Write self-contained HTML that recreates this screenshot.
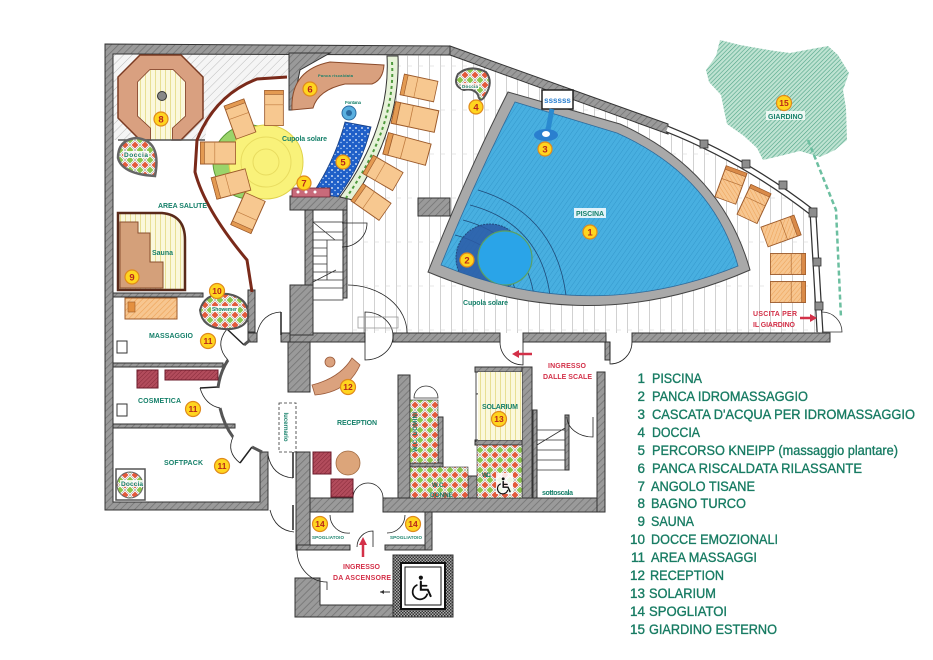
<!DOCTYPE html>
<html><head><meta charset="utf-8">
<style>
html,body{margin:0;padding:0;background:#fff;}
svg{display:block;}
text{font-family:"Liberation Sans",Arial,sans-serif;}
</style></head><body>
<svg width="933" height="660" viewBox="0 0 933 660" xmlns="http://www.w3.org/2000/svg">
<defs>
<pattern id="wh" width="5" height="5" patternUnits="userSpaceOnUse" patternTransform="rotate(45)">
<rect width="5" height="5" fill="#9a9a9a"/><line x1="0" y1="0" x2="0" y2="5" stroke="#747474" stroke-width="1.6"/></pattern>
<pattern id="lh" width="6" height="6" patternUnits="userSpaceOnUse" patternTransform="rotate(45)">
<rect width="6" height="6" fill="#f5f5f5"/><line x1="0" y1="0" x2="0" y2="6" stroke="#bcbcbc" stroke-width="1"/></pattern>
<pattern id="gh" width="3" height="3" patternUnits="userSpaceOnUse" patternTransform="rotate(45)">
<rect width="3" height="3" fill="#bfe3d2"/><line x1="0" y1="0" x2="0" y2="3" stroke="#4ea386" stroke-width="1.2"/></pattern>
<pattern id="deck" width="11" height="44" patternUnits="userSpaceOnUse">
<rect width="11" height="44" fill="#fff"/><line x1="0.5" y1="0" x2="0.5" y2="44" stroke="#c6c6c6" stroke-width="0.8"/><line x1="0" y1="22" x2="5" y2="22" stroke="#d8d8d8" stroke-width="0.6"/></pattern>
<pattern id="water" width="4" height="4" patternUnits="userSpaceOnUse" patternTransform="rotate(35)">
<rect width="4" height="4" fill="#48afe0"/><line x1="0" y1="0" x2="0" y2="4" stroke="#3498cc" stroke-width="1"/></pattern>
<pattern id="tiles" width="10" height="10" patternUnits="userSpaceOnUse">
<rect width="10" height="10" fill="#fff"/>
<path d="M5 0 L10 5 L5 10 L0 5Z" fill="none" stroke="#666" stroke-width="0.4"/>
<path d="M5 1.5 L8.5 5 L5 8.5 L1.5 5Z" fill="#e25a3c"/>
<path d="M0 -3.5 L3.5 0 L0 3.5 L-3.5 0Z M10 -3.5 L13.5 0 L10 3.5 L6.5 0Z M0 6.5 L3.5 10 L0 13.5 L-3.5 10Z M10 6.5 L13.5 10 L10 13.5 L6.5 10Z" fill="#8dc54c"/></pattern>
<pattern id="yst" width="5" height="5" patternUnits="userSpaceOnUse">
<rect width="5" height="5" fill="#fbf8dc"/><line x1="0.5" y1="0" x2="0.5" y2="5" stroke="#e0d576" stroke-width="0.7"/></pattern>
<pattern id="orh" width="4" height="4" patternUnits="userSpaceOnUse" patternTransform="rotate(45)">
<rect width="4" height="4" fill="#f7c690"/><line x1="0" y1="0" x2="0" y2="4" stroke="#eda257" stroke-width="1.2"/></pattern>
<pattern id="rh" width="3" height="3" patternUnits="userSpaceOnUse" patternTransform="rotate(45)">
<rect width="3" height="3" fill="#b24c5c"/><line x1="0" y1="0" x2="0" y2="3" stroke="#872a3a" stroke-width="1"/></pattern>
<pattern id="chk" width="3" height="3" patternUnits="userSpaceOnUse">
<rect width="3" height="3" fill="#aaa"/><rect width="1.5" height="1.5" fill="#333"/><rect x="1.5" y="1.5" width="1.5" height="1.5" fill="#333"/></pattern>
<pattern id="kn" width="6" height="6" patternUnits="userSpaceOnUse">
<rect width="6" height="6" fill="#1f5fc8"/><circle cx="2" cy="2" r="0.9" fill="#fff"/><circle cx="5" cy="4.5" r="0.7" fill="#bfe0ff"/></pattern>
<g id="lng"><rect x="-22" y="-11" width="44" height="22" fill="#f7c890" stroke="#9c5a2a" stroke-width="1"/><rect x="-22" y="-11" width="5" height="22" fill="#e39a52" stroke="#9c5a2a" stroke-width="0.8"/><line x1="-4" y1="-11" x2="-4" y2="11" stroke="#c07c40" stroke-width="0.8"/></g>
<g id="lnh"><rect x="-22" y="-11" width="44" height="22" fill="url(#orh)" stroke="#9c5a2a" stroke-width="1"/><rect x="-22" y="-11" width="5" height="22" fill="#d98a48" stroke="#9c5a2a" stroke-width="0.8"/><line x1="-4" y1="-11" x2="-4" y2="11" stroke="#b06a30" stroke-width="0.8"/></g>
<g id="wchair" fill="none" stroke="#111" stroke-linecap="round">
<circle cx="-1" cy="-9" r="1.8" fill="#111" stroke="none"/>
<path d="M-1,-5.5 L-1,1.5 L5,1.5 L7.5,7" stroke-width="1.8"/>
<path d="M-1,-2 L4,-2" stroke-width="1.5"/>
<path d="M-4.5,-2.5 A6.5,6.5 0 1 0 4.5,5.5" stroke-width="1.5"/></g>
<clipPath id="wclip"><path d="M441,265 Q475,180 515,102 L617,133 Q713,176 738,266 Q590,326 441,265 Z"/></clipPath>
</defs>
<rect width="933" height="660" fill="#fff"/>

<!-- garden -->
<path d="M720,40 L740,45 L757,48 L775,51 L790,53 L806,50 L828,46 L838,55 L849,73 L843,90 L846,108 L847,140 L835,150 L820,157 L800,151 L780,156 L763,160 L757,148 L744,136 L727,124 L724,110 L721,95 L709,82 L706,70 L716,56 Z" fill="url(#gh)"/>
<path d="M808,140 L836,210 L841,318" fill="none" stroke="#6cbfa0" stroke-width="2.5" stroke-dasharray="5,3"/>

<!-- deck -->
<path d="M398,56 L449,55 L667,133 Q745,162 812,214 L819,333 L350,333 L350,205 L353,200 Q401,127 398,56 Z" fill="url(#deck)"/>

<!-- light hatch top-left -->
<path d="M113,53 L290,53 L290,77 L257,79 Q222,92 207,125 L205,140 L113,140 Z" fill="url(#lh)"/>

<!-- walls -->
<g fill="url(#wh)" stroke="#333" stroke-width="1">
<path d="M105,44 L450,46 L450,55 L113,54 L113,502 L260,502 L260,452 L268,452 L268,510 L105,510 Z"/>
<path d="M450,46 L668,124 L668,134 L450,55 Z"/>
<rect x="248" y="333" width="9" height="9"/>
<rect x="281" y="333" width="9" height="9"/>
<rect x="290" y="333" width="75" height="9"/>
<rect x="393" y="333" width="107" height="9"/>
<rect x="523" y="333" width="83" height="9"/>
<rect x="632" y="333" width="198" height="9"/>
<path d="M289,53 L330,53 L300,70 L292,110 L289,110 Z"/>
<rect x="290" y="196" width="57" height="14"/>
<rect x="305" y="210" width="8" height="78"/>
<rect x="290" y="285" width="23" height="50"/>
<rect x="343" y="210" width="4" height="88"/>
<rect x="418" y="198" width="32" height="18"/>
<rect x="288" y="342" width="22" height="50"/>
<rect x="296" y="452" width="14" height="98"/>
<rect x="310" y="498" width="43" height="14"/>
<rect x="383" y="498" width="222" height="14"/>
<rect x="597" y="372" width="8" height="140"/>
<rect x="605" y="342" width="5" height="18"/>
<rect x="398" y="375" width="12" height="123"/>
<rect x="438" y="417" width="5" height="48"/>
<rect x="410" y="463" width="33" height="4"/>
<rect x="468" y="476" width="9" height="22"/>
<rect x="475" y="367" width="57" height="5"/>
<rect x="522" y="367" width="10" height="131"/>
<rect x="475" y="440" width="47" height="5"/>
<rect x="297" y="545" width="53" height="5"/>
<rect x="385" y="545" width="47" height="5"/>
<rect x="425" y="512" width="7" height="38"/>
<path d="M295,578 L320,578 L320,605 L393,605 L393,617 L295,617 Z"/>
<rect x="113" y="293" width="90" height="4"/>
<rect x="248" y="290" width="7" height="42"/>
<rect x="113" y="363" width="110" height="4"/>
<rect x="113" y="424" width="122" height="4"/>
<rect x="533" y="410" width="4" height="88"/>
<rect x="565" y="415" width="4" height="55"/>
</g>

<!-- right window wall -->
<path d="M667,129 Q745,160 813,213 L820,332" fill="none" stroke="#333" stroke-width="7"/>
<path d="M667,129 Q745,160 813,213 L820,332" fill="none" stroke="#fff" stroke-width="4.5"/>
<g fill="#8d8d8d" stroke="#333" stroke-width="0.8">
<rect x="700" y="140" width="8" height="8"/><rect x="742" y="160" width="8" height="8"/><rect x="779" y="181" width="8" height="8"/><rect x="809" y="208" width="8" height="9"/><rect x="813" y="258" width="8" height="8"/><rect x="815" y="302" width="8" height="8"/></g>
<path d="M822,312 A 20 20 0 0 1 842,332 L822,332" fill="none" stroke="#333" stroke-width="0.8"/>

<!-- pool -->
<path d="M428,272 Q466,175 508,92 L620,124 Q722,170 750,270 Q590,340 428,272 Z" fill="#a9a9a9" stroke="#444" stroke-width="1"/>
<path d="M441,265 Q475,180 515,102 L617,133 Q713,176 738,266 Q590,326 441,265 Z" fill="url(#water)" stroke="#2f6a9a" stroke-width="0.8"/>
<g clip-path="url(#wclip)">
<g fill="none" stroke="#1f4a78" stroke-width="0.8">
<path d="M478,190 Q560,215 567,305"/><path d="M470,205 Q545,225 551,305"/><path d="M463,220 Q530,238 535,305"/><path d="M455,235 Q512,250 518,305"/></g>
<circle cx="490" cy="258" r="34" fill="#2c5ba6" opacity="0.85" stroke="#1d3b70" stroke-dasharray="2,1"/>
<circle cx="505" cy="258" r="27" fill="#2aa4e8" stroke="#5aa064" stroke-width="1.2"/>
</g>
<rect x="542" y="90" width="31" height="19" fill="#fff" stroke="#222" stroke-width="1.5"/>
<text x="557.5" y="103" font-size="8" font-weight="bold" fill="#2a7fd0" text-anchor="middle">ssssss</text>
<path d="M552,109 L547,135" stroke="#2a8ad0" stroke-width="5"/>
<ellipse cx="546" cy="135" rx="12" ry="6" fill="#2a7fcf"/>
<ellipse cx="546" cy="134" rx="4" ry="3" fill="#fff"/>

<!-- doccia 4 -->
<path d="M458,74 Q470,64 486,72 Q494,82 485,96 Q480,104 478,95 Q474,88 464,90 Q452,86 458,74 Z" fill="url(#tiles)" stroke="#555" stroke-width="2"/>

<!-- planter strip + kneipp -->
<path d="M387,56 Q391,127 340,197 L353,200 Q401,127 398,56 Z" fill="#e6f2d8" stroke="#333" stroke-width="1"/>
<path d="M392,62 Q396,127 346,198" fill="none" stroke="#4f9a3e" stroke-width="2" stroke-dasharray="3,3"/>
<path d="M345,122 L371,127 Q362,165 338,197 L313,193 Q335,160 345,122 Z" fill="url(#kn)" stroke="#173e80" stroke-width="0.8"/>
<circle cx="349" cy="113" r="7" fill="#5ab0e0" stroke="#2a6aa0"/><circle cx="349" cy="113" r="3" fill="#2a6aa0"/>
<rect x="292" y="188" width="38" height="9" fill="#c86a7a" stroke="#6a2030" stroke-width="0.8"/>
<circle cx="298" cy="192" r="1.5" fill="#fff"/><circle cx="306" cy="192" r="1.5" fill="#fff"/><circle cx="315" cy="192" r="1.5" fill="#fff"/>

<!-- panca 6 -->
<path d="M292,110 Q290,70 330,62 L384,65 Q383,80 372,84 L345,84 Q318,90 313,108 Z" fill="#d9a07e" stroke="#8a4a2a" stroke-width="1"/>

<!-- bagno turco 8 -->
<path d="M140,55 L181,55 L203,77 L203,118 L181,140 L172,140 L172,128 L185,116 L185,82 L173,70 L150,70 L138,82 L138,116 L151,128 L151,140 L140,140 L118,118 L118,77 Z" fill="#d9a080" stroke="#7a3a22" stroke-width="1.5"/>
<path d="M150,70 L173,70 L185,82 L185,116 L172,128 L172,140 L151,140 L151,128 L138,116 L138,82 Z" fill="url(#yst)"/>
<circle cx="162" cy="96" r="4.5" fill="#888" stroke="#333"/>
<path d="M118,140 L205,140" stroke="#555" stroke-width="1.5"/>

<!-- doccia top -->
<path d="M155,176 Q162,140 136,138 Q118,140 118,158 Q122,174 155,176 Z" fill="url(#tiles)" stroke="#666" stroke-width="2.5"/>

<!-- sauna 9 -->
<path d="M118,213 L162,213 Q185,215 185,240 L185,290 L118,290 Z" fill="url(#yst)" stroke="#5a2a1a" stroke-width="2.5"/>
<path d="M120,222 L138,222 L138,233 L150,233 L150,262 L163,262 L163,288 L120,288 Z" fill="#d4a07a" stroke="#8a5030" stroke-width="1"/>

<!-- area salute partition -->
<path d="M287,77 L257,79 Q215,95 197,140 L195,172 Q205,210 247,260 L252,292" fill="none" stroke="#7a2a1a" stroke-width="3"/>

<!-- cupola solare left -->
<circle cx="250" cy="162" r="37" fill="#9ad46a" stroke="#5a9a3a"/>
<circle cx="266" cy="162" r="37" fill="#f9f27a" stroke="#e0d24a"/>
<circle cx="266" cy="162" r="25" fill="none" stroke="#e8dc60"/>
<circle cx="266" cy="162" r="13" fill="none" stroke="#e8dc60"/>
<use href="#lng" transform="translate(240,119) rotate(70) scale(0.8,0.95)"/>
<use href="#lng" transform="translate(274,108) rotate(90) scale(0.8,0.85)"/>
<use href="#lng" transform="translate(218,153) scale(0.8,1)"/>
<use href="#lng" transform="translate(231,184) rotate(-15) scale(0.8,1)"/>
<use href="#lng" transform="translate(248,213) rotate(-66) scale(0.8,1)"/>

<!-- deck loungers -->
<use href="#lng" transform="translate(419,88) rotate(12) scale(0.78,0.95)"/>
<use href="#lng" transform="translate(415,117) rotate(12)"/>
<use href="#lng" transform="translate(407,149) rotate(15)"/>
<use href="#lng" transform="translate(383,173) rotate(30) scale(0.78,0.95)"/>
<use href="#lng" transform="translate(371,202) rotate(35) scale(0.78,0.95)"/>
<use href="#lnh" transform="translate(731,185) rotate(110) scale(0.75,1)"/>
<use href="#lnh" transform="translate(754,204) rotate(115) scale(0.75,1)"/>
<use href="#lnh" transform="translate(781,231) rotate(160) scale(0.8,0.95)"/>
<use href="#lnh" transform="translate(788,264) rotate(180) scale(0.8,0.95)"/>
<use href="#lnh" transform="translate(788,292) rotate(180) scale(0.8,0.95)"/>

<!-- stairs -->
<g stroke="#333" stroke-width="0.8" fill="none">
<rect x="313" y="222" width="30" height="78"/>
<path d="M313,232 H343 M313,240 H343 M313,248 H327 M313,256 H327 M313,264 H327 M313,272 H343 M313,280 H343 M313,288 H343 M327,240 V280 M313,222 L335,240 M313,282 L336,270"/>
<path d="M537,430 H565 M537,440 H565 M537,450 H565 M537,460 H565 M537,470 H565 M537,445 L565,428"/>
</g>

<!-- doors -->
<g fill="none" stroke="#222" stroke-width="0.8">
<path d="M342,223 L367,223 A25,24 0 0 1 342,247"/>
<path d="M348,285 A60,48 0 0 1 407,333"/>
<path d="M365,312 A28,24 0 0 1 365,360 Z"/>
<rect x="358" y="317" width="40" height="11" stroke="#999"/>
<path d="M500,342 A23,23 0 0 0 523,365 L523,342"/>
<path d="M632,342 A22,22 0 0 1 610,364 L610,342"/>
<path d="M567,417 A26,20 0 0 0 593,437 L593,417"/>
<path d="M353,498 A15,15 0 0 1 368,483 A15,15 0 0 1 383,498"/>
<path d="M330,515 A18,18 0 0 0 350,533"/>
<path d="M387,533 A18,18 0 0 0 405,515"/>
<path d="M357,547 A16,16 0 0 1 373,531 L373,547"/>
<path d="M297,550 A30,32 0 0 0 327,582 L327,590"/>
<path d="M476,372 L476,442"/>
<path d="M498,372 A22,22 0 0 1 476,394"/>
<!-- hub doors -->
<path d="M257,333 Q262,313 281,312"/>
<path d="M227,329 Q214,345 228,360"/>
<path d="M200,388 Q205,405 220,408"/>
<path d="M233,437 Q226,452 240,463"/>
<path d="M268,455 Q272,476 293,478"/>
<path d="M270,510 Q275,530 294,532"/>
</g>
<g fill="none" stroke="#222" stroke-width="1.5">
<path d="M281,312 L281,335"/>
<path d="M227,329 L244,345"/>
<path d="M200,388 L218,387"/>
<path d="M240,463 L252,447"/>
<path d="M293,478 L293,452"/>
<path d="M293,530 L293,505"/>
</g>
<g fill="none" stroke="#555" stroke-width="3">
<path d="M228,360 Q220,372 218,388"/>
<path d="M220,408 Q224,425 233,437"/>
<path d="M252,447 L262,452"/>
<path d="M244,345 L250,340"/>
</g>
<rect x="279" y="403" width="17" height="49" fill="none" stroke="#333" stroke-width="0.8" stroke-dasharray="3,2"/>

<!-- left rooms furniture -->
<rect x="125" y="298" width="52" height="21" fill="url(#orh)" stroke="#9c5a2a"/>
<rect x="128" y="302" width="7" height="10" fill="#e49040" stroke="#9c5a2a" stroke-width="0.6"/>
<rect x="117" y="341" width="10" height="12" fill="#fff" stroke="#333"/>
<rect x="117" y="404" width="10" height="12" fill="#fff" stroke="#333"/>
<rect x="137" y="370" width="21" height="18" fill="url(#rh)" stroke="#6a1a2a"/>
<rect x="165" y="370" width="53" height="10" fill="url(#rh)" stroke="#6a1a2a"/>
<rect x="116" y="469" width="29" height="31" fill="#fff" stroke="#555" stroke-width="1.5"/>
<circle cx="130" cy="485" r="13" fill="url(#tiles)" stroke="#666"/>
<path d="M200,310 Q205,292 228,294 Q250,298 248,318 Q244,330 224,329 Q202,328 200,310 Z" fill="url(#tiles)" stroke="#555" stroke-width="2"/>

<!-- reception furniture -->
<path d="M312,385 Q340,378 352,358 L360,365 Q348,392 315,395 Z" fill="#dba27e" stroke="#9a5a3a" stroke-width="0.8"/>
<circle cx="330" cy="362" r="5" fill="#dba27e" stroke="#9a5a3a" stroke-width="0.8"/>
<rect x="313" y="452" width="18" height="22" fill="url(#rh)" stroke="#6a1a2a"/>
<rect x="331" y="479" width="22" height="18" fill="url(#rh)" stroke="#6a1a2a"/>
<circle cx="348" cy="463" r="12" fill="#dca57a" stroke="#a06a40" stroke-width="0.8"/>

<!-- WCs & solarium -->
<rect x="410" y="400" width="28" height="63" fill="url(#tiles)" stroke="#333" stroke-width="0.6"/>
<rect x="410" y="467" width="58" height="31" fill="url(#tiles)" stroke="#333" stroke-width="0.6"/>
<rect x="477" y="445" width="45" height="53" fill="url(#tiles)" stroke="#333" stroke-width="0.6"/>
<path d="M414,398 A12,12 0 0 1 438,398 Z" fill="#fff" stroke="#333" stroke-width="0.8"/>
<rect x="478" y="372" width="44" height="68" fill="url(#yst)"/>
<rect x="496" y="473" width="17" height="21" fill="#fff" opacity="0.85"/>
<use href="#wchair" transform="translate(504,486) scale(0.8)"/>

<!-- elevator -->
<rect x="393" y="555" width="60" height="62" fill="url(#chk)" stroke="#333"/>
<rect x="401" y="563" width="44" height="46" fill="#fff" stroke="#111" stroke-width="2"/>
<rect x="405" y="567" width="36" height="38" fill="none" stroke="#111" stroke-width="1"/>
<use href="#wchair" transform="translate(422,588) scale(1.15)"/>
<path d="M380,592 L390,592" stroke="#333" stroke-width="1"/><path d="M380,592 L384,590 L384,594 Z" fill="#333"/>

<!-- red arrows -->
<path d="M800,318 L812,318" stroke="#d33048" stroke-width="2.5"/><path d="M817,318 L810,314 L810,322 Z" fill="#d33048"/>
<path d="M532,354 L518,354" stroke="#d33048" stroke-width="2.5"/><path d="M512,354 L519,350 L519,358 Z" fill="#d33048"/>
<path d="M363,557 L363,543" stroke="#d33048" stroke-width="2.5"/><path d="M363,537 L359,545 L367,545 Z" fill="#d33048"/>

<!-- map labels -->
<g font-weight="bold" fill="#16806a" font-size="7">
<text x="158" y="208" textLength="49">AREA SALUTE</text>
<text x="152" y="255" textLength="21">Sauna</text>
<text x="282" y="141" textLength="45">Cupola solare</text>
<text x="318" y="77" font-size="4" textLength="35">Panca riscaldata</text>
<text x="345" y="104" font-size="4.5" textLength="16">Fontana</text>
<text x="149" y="338" textLength="44">MASSAGGIO</text>
<text x="138" y="403" textLength="43">COSMETICA</text>
<text x="164" y="465" textLength="39">SOFTPACK</text>
<rect x="120" y="480" width="24" height="7" fill="#fff" opacity="0.85"/>
<text x="121" y="486" textLength="22" font-size="6.5">Doccia</text>
<rect x="123" y="151" width="26" height="7" fill="#fff" opacity="0.85"/>
<text x="124" y="157" textLength="24" font-size="6.5">Doccia</text>
<rect x="461" y="83" width="18" height="6" fill="#fff" opacity="0.85"/>
<text x="462" y="88" textLength="16" font-size="4.5">Doccia</text>
<rect x="211" y="306" width="27" height="6" fill="#fff" opacity="0.85"/>
<text x="212" y="311" textLength="25" font-size="5">Showemer</text>
<text x="337" y="425" textLength="40">RECEPTION</text>
<text transform="translate(284,427) rotate(90)" text-anchor="middle" font-size="6">lucernario</text>
<rect x="574" y="208" width="32" height="10" fill="#fff" opacity="0.85"/>
<text x="576" y="216" textLength="28">PISCINA</text>
<text x="463" y="305" textLength="45">Cupola solare</text>
<rect x="766" y="111" width="39" height="9" fill="#fff" opacity="0.8"/>
<text x="768" y="119" textLength="35">GIARDINO</text>
<text x="482" y="409" textLength="36">SOLARIUM</text>
<text x="482" y="477" textLength="9" font-size="6">W.C.</text>
<text x="432" y="487" textLength="13" font-size="6">W.C.</text>
<text x="430" y="497" textLength="23" font-size="6.5">DONNE</text>
<text transform="translate(417,432) rotate(-90)" text-anchor="middle" font-size="6" textLength="40">W.C. UOMINI</text>
<text x="542" y="495" textLength="31">sottoscala</text>
<text x="312" y="539" font-size="4.5" textLength="32">SPOGLIATOIO</text>
<text x="390" y="539" font-size="4.5" textLength="32">SPOGLIATOIO</text>
</g>
<g font-weight="bold" fill="#d33048" font-size="7">
<text x="753" y="316" textLength="44">USCITA PER</text>
<text x="753" y="327" textLength="42">IL GIARDINO</text>
<text x="548" y="368" textLength="38">INGRESSO</text>
<text x="543" y="379" textLength="49">DALLE SCALE</text>
<text x="343" y="569" textLength="37">INGRESSO</text>
<text x="333" y="580" textLength="58">DA ASCENSORE</text>
</g>

<!-- number badges -->
<g font-weight="bold" font-size="9.5" text-anchor="middle" fill="#b8261a">
<g stroke="#e08a1c" stroke-width="1.2" fill="#ffd51f">
<circle cx="590" cy="232" r="7"/><circle cx="467" cy="260" r="7"/><circle cx="545" cy="149" r="7"/><circle cx="476" cy="107" r="7"/>
<circle cx="343" cy="162" r="7"/><circle cx="310" cy="89" r="7"/><circle cx="304" cy="183" r="7"/><circle cx="161" cy="119" r="7"/>
<circle cx="132" cy="277" r="7"/><circle cx="217" cy="291" r="7.5"/><circle cx="208" cy="341" r="7.5"/><circle cx="193" cy="409" r="7.5"/>
<circle cx="222" cy="466" r="7.5"/><circle cx="348" cy="387" r="7.5"/><circle cx="499" cy="419" r="7.5"/><circle cx="320" cy="524" r="7.5"/>
<circle cx="413" cy="524" r="7.5"/><circle cx="784" cy="103" r="7.5"/></g>
<text x="590" y="235.5">1</text><text x="467" y="263.5">2</text><text x="545" y="152.5">3</text><text x="476" y="110.5">4</text>
<text x="343" y="165.5">5</text><text x="310" y="92.5">6</text><text x="304" y="186.5">7</text><text x="161" y="122.5">8</text>
<text x="132" y="280.5">9</text>
<g font-size="8.5"><text x="217" y="294">10</text><text x="208" y="344">11</text><text x="193" y="412">11</text><text x="222" y="469">11</text>
<text x="348" y="390">12</text><text x="499" y="422">13</text><text x="320" y="527">14</text><text x="413" y="527">14</text><text x="784" y="106">15</text></g>
</g>

<!-- legend -->
<g fill="#187c63" stroke="#187c63" stroke-width="0.35" font-size="13.5">
<g text-anchor="end">
<text x="645" y="383">1</text><text x="645" y="401">2</text><text x="645" y="419">3</text><text x="645" y="437">4</text>
<text x="645" y="455">5</text><text x="645" y="473">6</text><text x="645" y="491">7</text><text x="645" y="508">8</text>
<text x="645" y="526">9</text><text x="645" y="544">10</text><text x="645" y="562">11</text><text x="645" y="580">12</text>
<text x="645" y="598">13</text><text x="645" y="616">14</text><text x="645" y="634">15</text></g>
<text x="652" y="383" textLength="50" lengthAdjust="spacingAndGlyphs">PISCINA</text>
<text x="652" y="401" textLength="156" lengthAdjust="spacingAndGlyphs">PANCA IDROMASSAGGIO</text>
<text x="652" y="419" textLength="263" lengthAdjust="spacingAndGlyphs">CASCATA D'ACQUA PER IDROMASSAGGIO</text>
<text x="652" y="437" textLength="48" lengthAdjust="spacingAndGlyphs">DOCCIA</text>
<text x="652" y="455" textLength="246" lengthAdjust="spacingAndGlyphs">PERCORSO KNEIPP (massaggio plantare)</text>
<text x="652" y="473" textLength="210" lengthAdjust="spacingAndGlyphs">PANCA RISCALDATA RILASSANTE</text>
<text x="651" y="491" textLength="104" lengthAdjust="spacingAndGlyphs">ANGOLO TISANE</text>
<text x="651" y="508" textLength="95" lengthAdjust="spacingAndGlyphs">BAGNO TURCO</text>
<text x="651" y="526" textLength="43" lengthAdjust="spacingAndGlyphs">SAUNA</text>
<text x="651" y="544" textLength="127" lengthAdjust="spacingAndGlyphs">DOCCE EMOZIONALI</text>
<text x="651" y="562" textLength="106" lengthAdjust="spacingAndGlyphs">AREA MASSAGGI</text>
<text x="650" y="580" textLength="74" lengthAdjust="spacingAndGlyphs">RECEPTION</text>
<text x="649" y="598" textLength="67" lengthAdjust="spacingAndGlyphs">SOLARIUM</text>
<text x="649" y="616" textLength="78" lengthAdjust="spacingAndGlyphs">SPOGLIATOI</text>
<text x="649" y="634" textLength="128" lengthAdjust="spacingAndGlyphs">GIARDINO ESTERNO</text>
</g>
</svg>
</body></html>
